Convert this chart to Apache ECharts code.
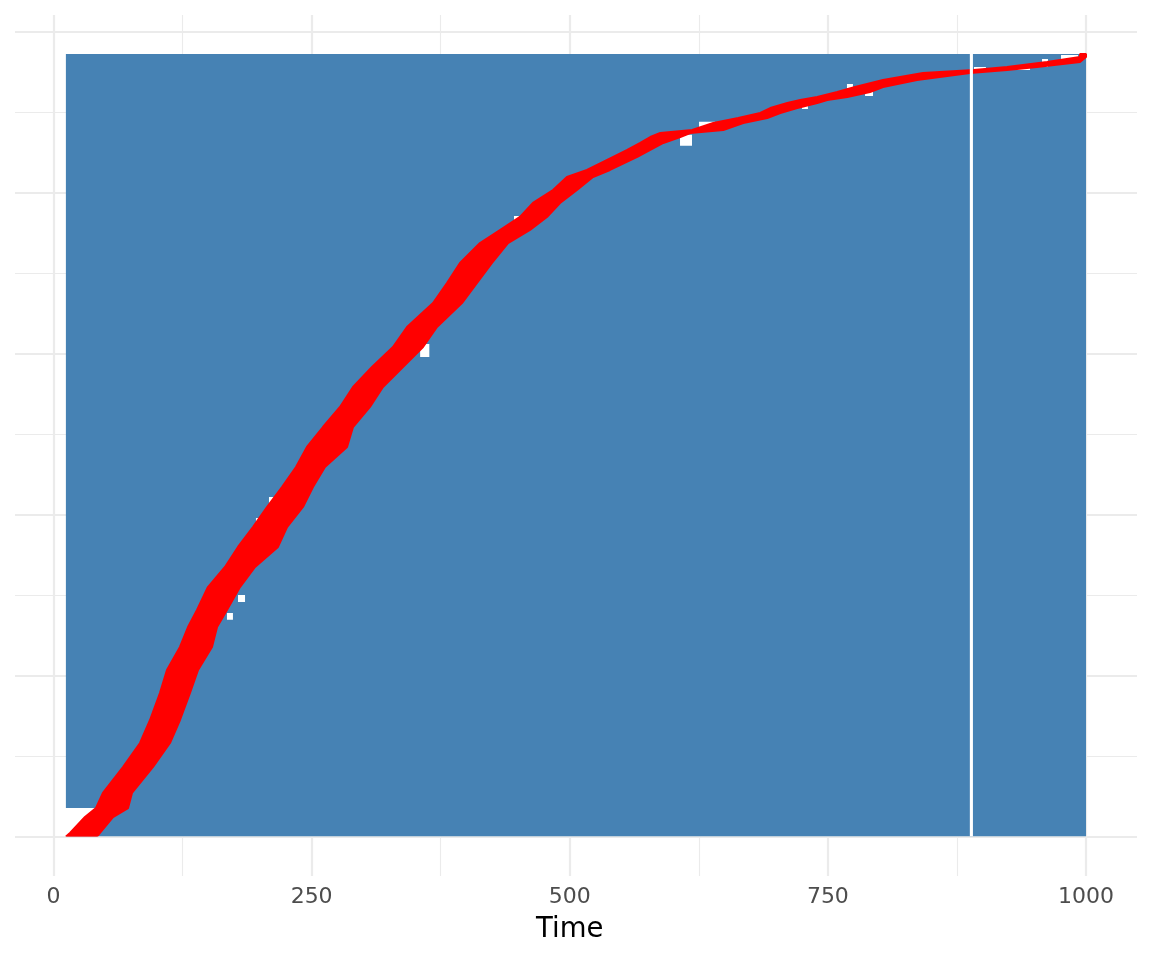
<!DOCTYPE html>
<html>
<head>
<meta charset="utf-8">
<script src="https://cdn.jsdelivr.net/npm/echarts@6/dist/echarts.min.js"></script>
<style>
html, body { margin: 0; padding: 0; background: #fff; }
#main { width: 1152px; height: 960px; }
</style>
</head>
<body>
<div id="main"></div>
<script>
// rows counted from the bottom, with where the red stretch starts/ends in each row (time)
var rowY = [0, 4.4, 24.2, 35.4, 54.1, 86.4, 116.2, 144.8, 178.4, 207.0, 235.6, 260.4, 281.5, 310.1, 335.0,
  359.9, 384.7, 409.6, 434.4, 459.3, 484.2, 509.0, 533.9, 558.7, 583.6, 608.5, 633.3, 663.1, 688.0, 712.9,
  737.7, 753.9, 770.1, 787.5, 803.6, 819.8, 828.5, 844.7, 853.4, 862.1, 869.5, 874.5, 878.2, 886.9, 893.1,
  899.3, 905.5, 911.7, 915.5, 919.2, 925.4, 931.6, 940.3, 949.0, 952.7, 956.5, 962.7, 968.9, 972.6];
var redLeft = [12.1, 16.0, 30.5, 41.2, 47.9, 67.3, 83.8, 93.5, 103.1, 109.9, 122.5, 130.3, 139.0, 149.6, 166.1,
  178.7, 193.2, 206.8, 221.3, 234.9, 245.5, 261.0, 277.5, 290.1, 308.5, 328.8, 342.4, 367.6, 381.1, 393.7,
  413.1, 432.4, 451.8, 464.4, 483.8, 497.3, 516.7, 542.1, 555.7, 568.3, 578.0, 587.7, 618.6, 639.0, 663.2,
  684.5, 694.2, 710.7, 723.2, 739.7, 759.1, 776.3, 803.4, 842.1, 891.5, 923.5, 962.2, 994.2, 994.2];
var redRight = [42.1, 45.0, 57.6, 72.2, 76.0, 96.4, 112.8, 122.5, 132.2, 140.0, 153.5, 158.4, 168.0, 180.6, 195.2,
  217.4, 226.2, 241.6, 251.3, 262.9, 284.3, 290.1, 306.5, 319.1, 338.5, 357.9, 371.4, 395.6, 410.2, 424.7,
  440.2, 461.5, 477.9, 490.6, 507.0, 522.5, 539.0, 565.4, 578.0, 590.6, 607.0, 616.7, 648.7, 668.0, 691.3,
  703.9, 720.3, 739.7, 749.4, 768.8, 790.8, 803.4, 836.3, 887.6, 923.5, 952.5, 994.2, 1000, 1000];

// time grid
var firstTime = 12, lastTime = 1000, topRow = 972.6, lateRows = 35.4;
var timeGap = [887.5, 890.5];

// empty cells along the band
var holeT0 = [355.1, 606.8, 625.2, 724.9, 768.5, 786.0, 446.0, 208.7, 196.1, 244.6, 168.0, 178.7, 933.2, 957.4, 975.8, 891.5];
var holeT1 = [364.0, 618.4, 640.7, 730.7, 774.3, 793.7, 451.8, 214.5, 201.9, 248.4, 173.8, 185.5, 945.8, 963.2, 992.3, 903.1];
var holeY0 = [596.0, 858.6, 881.0, 904.3, 930.4, 920.5, 762.6, 404.6, 388.5, 474.3, 269.5, 291.5, 952.7, 956.5, 961.5, 951.5];
var holeY1 = [612.2, 872.3, 888.5, 909.3, 935.4, 925.4, 771.3, 422.0, 396.0, 484.2, 277.8, 300.2, 956.5, 966.5, 971.4, 956.5];

var FONT = 'DejaVu Sans';
var GRID = '#EBEBEB';

// blue area: full rows, except the lowest ones which only begin at their red start
var bluePts = [[firstTime, topRow], [lastTime, topRow], [lastTime, 0]];
rowY.forEach(function (y, i) { if (y <= lateRows) bluePts.push([redLeft[i], y]); });
bluePts.push([firstTime, lateRows]);

// red band: up the left edges, back down the right edges
var redPts = [];
rowY.forEach(function (y, i) { redPts.push([redLeft[i], y]); });
for (var i = rowY.length - 1; i >= 0; i--) redPts.push([redRight[i], rowY[i]]);

var holes = holeT0.map(function (t, i) { return [t, holeT1[i], holeY0[i], holeY1[i]]; });

function polygon(pts, color, edge) {
  return function (params, api) {
    return {
      type: 'polygon',
      shape: { points: pts.map(function (p) { return api.coord(p); }) },
      style: { fill: color, stroke: edge ? color : null, lineWidth: edge || 0, lineJoin: 'bevel' }
    };
  };
}

function cell(color) {
  return function (params, api) {
    var a = api.coord([api.value(0), api.value(3)]);
    var b = api.coord([api.value(1), api.value(2)]);
    return {
      type: 'rect',
      shape: { x: a[0], y: a[1], width: b[0] - a[0], height: b[1] - a[1] },
      style: { fill: color }
    };
  };
}

var chart = echarts.init(document.getElementById('main'));
chart.setOption({
  animation: false,
  backgroundColor: '#fff',
  grid: [
    { left: 53.5, right: 66, top: 15, bottom: 84, outerBoundsMode: 'none' },
    { left: 15, right: 15, top: 32, bottom: 123.5, outerBoundsMode: 'none' },
    { left: 53.5, right: 66, top: 32, bottom: 123.5, outerBoundsMode: 'none' }
  ],
  xAxis: [
    {
      gridIndex: 0, type: 'value', min: 0, max: 1000, interval: 250,
      axisLine: { show: false }, axisTick: { show: false },
      axisLabel: {
        color: '#4D4D4D', fontSize: 22, fontFamily: FONT, margin: 10,
        showMinLabel: true, showMaxLabel: true,
        formatter: function (v) { return String(v); }
      },
      splitLine: { show: true, lineStyle: { color: GRID, width: 2.2 } },
      minorTick: { show: false, splitNumber: 2 },
      minorSplitLine: { show: true, lineStyle: { color: GRID, width: 1.1 } },
      name: 'Time', nameLocation: 'middle', nameGap: 40,
      nameTextStyle: { color: '#000', fontSize: 27.5, fontFamily: FONT }
    },
    { gridIndex: 1, type: 'value', min: 0, max: 1, show: false },
    { gridIndex: 2, type: 'value', min: 0, max: 1000, show: false }
  ],
  yAxis: [
    { gridIndex: 0, type: 'value', min: 0, max: 1, show: false },
    {
      gridIndex: 1, type: 'value', min: 0, max: 1000, interval: 200,
      axisLine: { show: false }, axisTick: { show: false }, axisLabel: { show: false },
      splitLine: { show: true, lineStyle: { color: GRID, width: 2.2 } },
      minorTick: { show: false, splitNumber: 2 },
      minorSplitLine: { show: true, lineStyle: { color: GRID, width: 1.1 } }
    },
    { gridIndex: 2, type: 'value', min: 0, max: 1000, show: false }
  ],
  series: [
    { type: 'custom', xAxisIndex: 2, yAxisIndex: 2, clip: true, data: [[0, 0]], renderItem: polygon(bluePts, '#4682B4'), silent: true },
    { type: 'custom', xAxisIndex: 2, yAxisIndex: 2, clip: true, data: holes, renderItem: cell('#FFFFFF'), silent: true },
    { type: 'custom', xAxisIndex: 2, yAxisIndex: 2, clip: true, data: [[0, 0]], renderItem: polygon(redPts, '#FF0000', 2), silent: true },
    { type: 'custom', xAxisIndex: 2, yAxisIndex: 2, clip: true, data: [[timeGap[0], timeGap[1], 0, topRow]], renderItem: cell('#FFFFFF'), silent: true }
  ]
});
</script>
</body>
</html>
